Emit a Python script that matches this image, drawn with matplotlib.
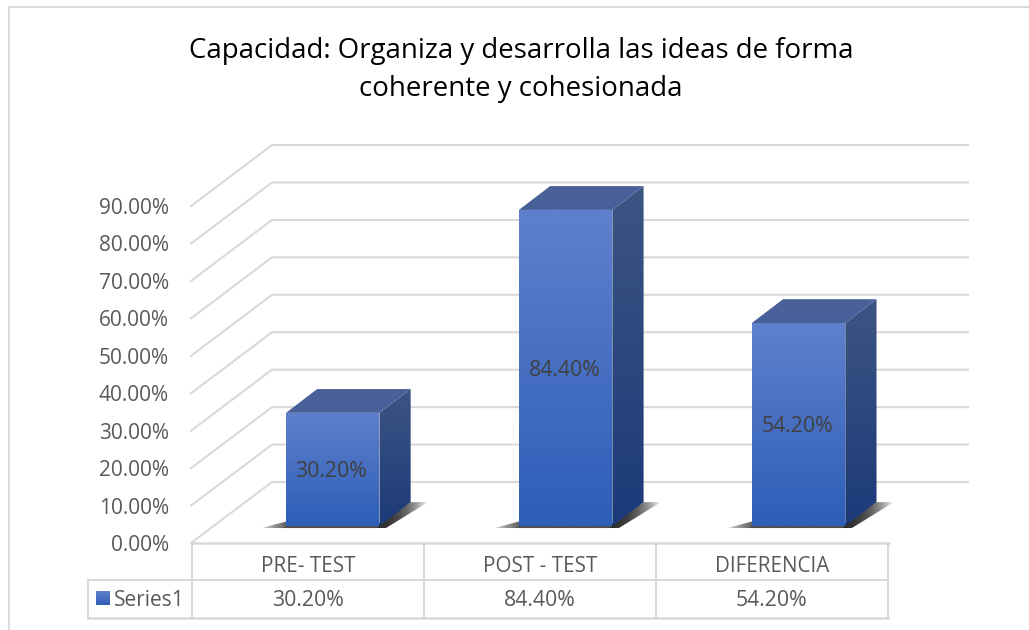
import numpy as np
import matplotlib
matplotlib.use('Agg')
from matplotlib import pyplot as plt
from matplotlib.colors import to_rgb
from matplotlib.patches import Polygon

title_lines = ["Capacidad: Organiza y desarrolla las ideas de forma", "coherente y cohesionada"]
categories = ['PRE- TEST', 'POST - TEST', 'DIFERENCIA']
values = [30.20, 84.40, 54.20]
y_ticks = [0, 10, 20, 30, 40, 50, 60, 70, 80, 90]
series_name = 'Series1'

GRID = '#D9D9D9'
TEXT = '#595959'
plt.rcParams['font.family'] = ['Open Sans', 'DejaVu Sans']

# pixels per unit on the front plane of the chart
PX_X = 232.0
PX_Y = 3.744
# how far the back wall sits behind the front plane, in pixels
DEPTH_X = 80
DEPTH_Y = 61

fig = plt.figure(figsize=(10.29, 6.3), dpi=100)
ax = fig.add_axes([0, 0, 1, 1])
XLIM = (-192 / PX_X, 3 + 141 / PX_X)
YLIM = (-87 / PX_Y, 543 / PX_Y)


def proj(x, y, d=0.0):
    # oblique projection: d=0 is the front plane, d=1 the back wall
    return (x + d * DEPTH_X / PX_X, y + d * DEPTH_Y / PX_Y)


def gradient_fill(verts, top, bottom, zorder):
    patch = Polygon(verts, fc='none', ec='none', zorder=zorder)
    ax.add_patch(patch)
    xs, ys = zip(*verts)
    t = np.linspace(0, 1, 200)[:, None, None]
    grad = (1 - t) * np.array(to_rgb(top))[None, None, :] + t * np.array(to_rgb(bottom))[None, None, :]
    im = ax.imshow(grad, extent=[min(xs), max(xs), min(ys), max(ys)], origin='upper',
                   aspect='auto', zorder=zorder, interpolation='bilinear')
    im.set_clip_path(patch)


def fade_fill(verts, fade_right, zorder):
    # dark shadow that fades out sideways
    patch = Polygon(verts, fc='none', ec='none', zorder=zorder)
    ax.add_patch(patch)
    xs, ys = zip(*verts)
    t = np.linspace(0, 1, 100)
    alpha = 0.95 * (1 - t ** 2.5) if fade_right else 0.95 * t ** 0.6
    rgba = np.zeros((1, 100, 4))
    rgba[..., :3] = 0.13
    rgba[..., 3] = alpha
    im = ax.imshow(rgba, extent=[min(xs), max(xs), min(ys), max(ys)], origin='upper',
                   aspect='auto', zorder=zorder, interpolation='bilinear')
    im.set_clip_path(patch)


# frame of the picture
ax.plot([XLIM[0] + 9 / PX_X] * 2, [YLIM[0], YLIM[1] - 7 / PX_Y], color=GRID, lw=1.4)
ax.plot([XLIM[0] + 9 / PX_X, XLIM[1]], [YLIM[1] - 7 / PX_Y] * 2, color=GRID, lw=1.4)

# gridlines: side wall then back wall
for tick in y_ticks:
    x0, y0 = proj(-0.004, tick, 0)
    x1, y1 = proj(0, tick, 1)
    x2, y2 = proj(3, tick, 1)
    ax.plot([x0, x1, x2], [y0, y1, y2], color=GRID, lw=1.5, zorder=1, solid_joinstyle='miter')
    ax.text(-23 / PX_X, tick - 2.5 / PX_Y, f'{tick:.2f}%', ha='right', va='center', fontsize=15, color=TEXT)

# bars
BAR_W = 0.403
BAR_FRONT = 0.28
BAR_DEPTH = 0.39
for i, (cat, val) in enumerate(zip(categories, values)):
    xc = i * 1.004 + 0.5 + 0.01
    xl, xr = xc - BAR_W / 2, xc + BAR_W / 2
    d0, d1 = BAR_FRONT, BAR_FRONT + BAR_DEPTH

    # floor shadow
    low = d0 - 0.035
    fade_fill([proj(xl - 0.095, 0, low), proj(xl + 0.02, 0, d0 + 0.14), proj(xl + 0.02, 0, low)], False, 2)
    fade_fill([proj(xr - 0.02, 0, low), proj(xr, 0, d1), proj(xr + 0.075, 0, d1),
               proj(xr + 0.04, 0, low)], True, 2)
    ax.add_patch(Polygon([proj(xl, 0, low), proj(xr, 0, low), proj(xr, 0, d0), proj(xl, 0, d0)],
                         fc='#505050', ec='none', zorder=2))

    gradient_fill([proj(xl, 0, d0), proj(xr, 0, d0), proj(xr, val, d0), proj(xl, val, d0)],
                  '#5F80CC', '#2D5EB8', 4)
    gradient_fill([proj(xr, 0, d0), proj(xr, 0, d1), proj(xr, val, d1), proj(xr, val, d0)],
                  '#3D5583', '#1B3A78', 4)
    gradient_fill([proj(xl, val, d0), proj(xr, val, d0), proj(xr, val, d1), proj(xl, val, d1)],
                  '#4A6298', '#48609A', 4)

    lx, ly = proj(xc - 0.006, val - val / 2 - 2.5 / PX_Y, d0)
    ax.text(lx, ly, f'{val:.2f}%', ha='center', va='center', fontsize=15.3, color='#404040', zorder=5)

# data table under the chart
ROW1 = -37 / PX_Y
ROW2 = -75 / PX_Y
LEFT = -104 / PX_X
ax.plot([0, 3.004], [0, 0], color=GRID, lw=1.8, zorder=3)
ax.plot([LEFT, 3], [ROW1, ROW1], color=GRID, lw=1.5, zorder=3)
ax.plot([LEFT, 3], [ROW2, ROW2], color=GRID, lw=1.8, zorder=3)
ax.plot([LEFT, LEFT], [ROW1, ROW2], color=GRID, lw=1.5, zorder=3)
for i in range(len(categories) + 1):
    ax.plot([i, i], [0, ROW2], color=GRID, lw=1.5, zorder=3)

for i, (cat, val) in enumerate(zip(categories, values)):
    ax.text(i + 0.5, ROW1 / 2 - 5 / PX_Y, cat, ha='center', va='center', fontsize=14.9, color=TEXT)
    ax.text(i + 0.5, (ROW1 + ROW2) / 2 - 2 / PX_Y, f'{val:.2f}%', ha='center', va='center', fontsize=15.3, color=TEXT)

# legend key and series name in the first table cell
key_x = (-96 / PX_X, -82 / PX_X)
key_y = (ROW1 - 11 / PX_Y, ROW1 - 25 / PX_Y)
gradient_fill([(key_x[0], key_y[0]), (key_x[1], key_y[0]), (key_x[1], key_y[1]), (key_x[0], key_y[1])],
              '#5F80CC', '#2D5EB8', 4)
ax.text(-78 / PX_X, (ROW1 + ROW2) / 2 - 2 / PX_Y, series_name, ha='left', va='center', fontsize=15, color=TEXT)

# title, one text per line to hold the line distance of the original
ax.text(1.418, YLIM[1] - 51 / PX_Y, title_lines[0], ha='center', va='center', fontsize=19.9, color='black')
ax.text(1.418, YLIM[1] - 89 / PX_Y, title_lines[1], ha='center', va='center', fontsize=19.9, color='black')

ax.set_xlim(*XLIM)
ax.set_ylim(*YLIM)
ax.axis('off')
fig.savefig('out.png', dpi=100)
